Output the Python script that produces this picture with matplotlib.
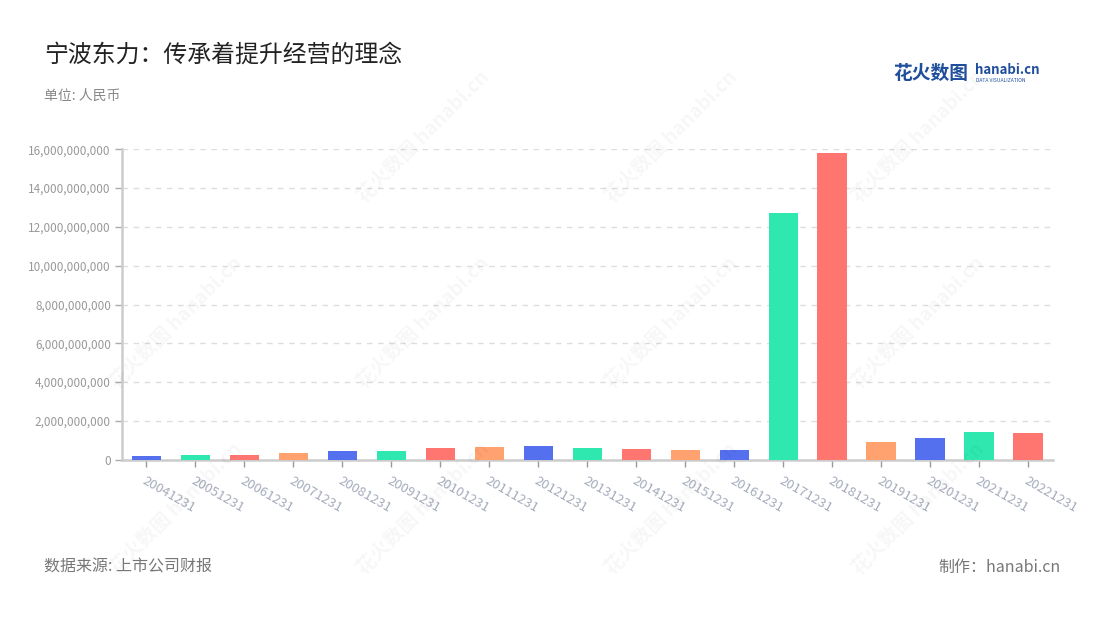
import matplotlib.pyplot as plt
from matplotlib.ticker import FuncFormatter

plt.rcParams["font.family"] = ["Noto Sans CJK SC", "DejaVu Sans"]

# ==========================================
# DATA
# ==========================================

years = [
    "20041231", "20051231", "20061231", "20071231", "20081231",
    "20091231", "20101231", "20111231", "20121231", "20131231",
    "20141231", "20151231", "20161231", "20171231", "20181231",
    "20191231", "20201231", "20211231", "20221231",
]

values = [
    0.18e9, 0.23e9, 0.26e9, 0.33e9, 0.45e9,
    0.45e9, 0.60e9, 0.66e9, 0.69e9, 0.59e9,
    0.54e9, 0.49e9, 0.50e9, 12.70e9, 15.81e9,
    0.93e9, 1.11e9, 1.42e9, 1.37e9,
]

palette = ["#5470ee", "#2ee8b0", "#ff7670", "#ffa270"]

y_ticks = [0, 2e9, 4e9, 6e9, 8e9, 10e9, 12e9, 14e9, 16e9]

# ==========================================
# FIGURE
# ==========================================

fig = plt.figure(
    figsize=(11, 6.2),
    dpi=100
)

ax = fig.add_axes([0.1109, 0.2585, 0.846, 0.5007])

# faint watermarks behind everything
for wx in [0.16, 0.385, 0.61, 0.835]:
    for wy in [0.78, 0.48, 0.18]:
        if wy == 0.78 and wx == 0.16:
            continue
        fig.text(
            wx, wy,
            "花火数图 hanabi.cn",
            rotation=45,
            fontsize=14,
            color="#000000",
            alpha=0.035,
            ha="center",
            va="center",
            fontweight="bold",
            zorder=0
        )

colors = [palette[i % 4] for i in range(len(years))]

ax.bar(
    years,
    values,
    width=0.6,
    color=colors,
    zorder=3
)

ax.set_xlim(-0.5, len(years) - 0.5)
ax.set_ylim(0, 16e9)
ax.set_yticks(y_ticks)

ax.yaxis.set_major_formatter(
    FuncFormatter(lambda v, p: f"{int(v):,}")
)

ax.grid(
    axis="y",
    linestyle=(0, (4, 4)),
    color="#dddddd",
    linewidth=1,
    zorder=0
)

for side in ["top", "right"]:
    ax.spines[side].set_visible(False)

for side in ["left", "bottom"]:
    ax.spines[side].set_color("#cccccc")
    ax.spines[side].set_linewidth(1.8)

ax.tick_params(
    axis="y",
    colors="#aaaaaa",
    labelcolor="#999999",
    labelsize=8.5,
    length=5,
    width=1,
    pad=3
)

ax.tick_params(
    axis="x",
    colors="#999999",
    length=5,
    width=1
)

ax.set_xticks(range(len(years)))
ax.set_xticklabels(
    years,
    rotation=-30,
    ha="left",
    va="top",
    rotation_mode="anchor",
    fontsize=9.5,
    color="#a4abbb"
)

for lab in ax.get_xticklabels():
    lab.set_y(-0.01)

# ==========================================
# TEXTS
# ==========================================

fig.text(
    44 / 1100, 1 - 55 / 620,
    "宁波东力：传承着提升经营的理念",
    fontsize=17.2,
    color="#222222",
    va="center"
)

fig.text(
    44 / 1100, 1 - 96 / 620,
    "单位: 人民币",
    fontsize=10,
    color="#888888",
    va="center"
)

fig.text(
    44 / 1100, 1 - 567 / 620,
    "数据来源: 上市公司财报",
    fontsize=11.5,
    color="#777777",
    va="center"
)

fig.text(
    1061 / 1100, 1 - 567 / 620,
    "制作：hanabi.cn",
    fontsize=11.5,
    color="#777777",
    va="center",
    ha="right"
)

# logo
fig.text(
    893 / 1100, 1 - 73 / 620,
    "花火数图",
    fontsize=13.5,
    color="#1f4e9c",
    fontweight="bold",
    va="center"
)

fig.text(
    975 / 1100, 1 - 70 / 620,
    "hanabi.cn",
    fontsize=9.5,
    color="#1f4e9c",
    fontweight="bold",
    va="center"
)

fig.text(
    976 / 1100, 1 - 80 / 620,
    "DATA VISUALIZATION",
    fontsize=3.6,
    color="#1f4e9c",
    va="center"
)

fig.savefig("out.png", dpi=100)
plt.close()
